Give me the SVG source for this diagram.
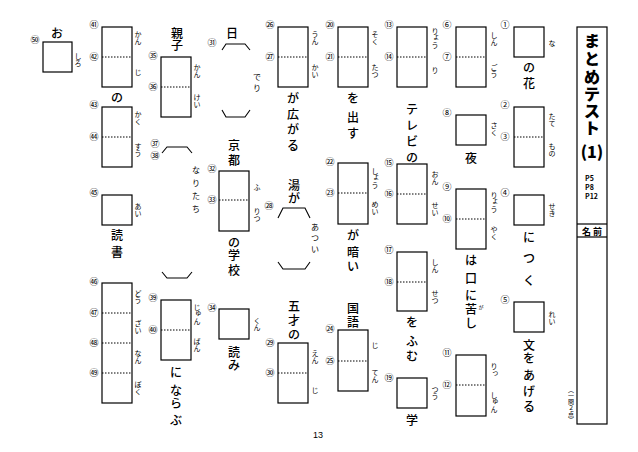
<svg xmlns="http://www.w3.org/2000/svg" width="638" height="452" viewBox="0 0 638 452">
<style>
text{font-family:"Noto Sans CJK JP","Noto Sans",sans-serif;fill:#000;text-anchor:middle}
.b{fill:none;stroke:#000;stroke-width:1.2}
.d{stroke:#000;stroke-width:1;stroke-dasharray:1.5 1.5}
.k{fill:none;stroke:#000;stroke-width:1.1}
.n{font-size:9px}
.m{font-size:12px;font-weight:500}
.f{font-size:7px}
.s{font-size:8px}
.t{font-size:16px;font-weight:900}
</style>
<rect width="638" height="452" fill="#fff"/>

<g id="title">
<rect class="b" x="577" y="27" width="30" height="397"/>
<line class="b" x1="577" y1="224" x2="607" y2="224"/>
<line class="b" x1="577" y1="237" x2="607" y2="237"/>
<text class="t" x="592"><tspan x="592" y="47">ま</tspan><tspan x="592" y="65">と</tspan><tspan x="592" y="83">め</tspan><tspan x="592" y="100">テ</tspan><tspan x="592" y="117">ス</tspan><tspan x="592" y="134">ト</tspan></text>
<text class="t" x="592" y="158">(1)</text>
<text style="font-size:7px;font-weight:700;text-anchor:start"><tspan x="585" y="180.5">P5</tspan><tspan x="585" y="189.5">P8</tspan><tspan x="585" y="198.5">P12</tspan></text>
<text style="font-size:9px;font-weight:700" x="592" y="234.5">名 前</text>
<text style="font-size:6px;writing-mode:vertical-rl" x="571" y="405">（一問２点）</text>
</g>

<g id="q1">
<rect class="b" x="514" y="27" width="30" height="30"/>
<text class="n" x="505" y="28.4">①</text>
<text class="f" x="552" y="45.7">な</text>
<text class="m"><tspan x="529" y="71.5">の</tspan><tspan x="529" y="87.5">花</tspan></text>
</g>
<g id="q2-3">
<rect class="b" x="514" y="107" width="30" height="60"/>
<line class="d" x1="514" y1="137" x2="544" y2="137"/>
<text class="n" x="505" y="108.4">②</text>
<text class="n" x="505" y="140.4">③</text>
<text class="f"><tspan x="552" y="119.2">た</tspan><tspan x="552" y="126.2">て</tspan></text>
<text class="f"><tspan x="552" y="149.2">も</tspan><tspan x="552" y="156.2">の</tspan></text>
</g>
<g id="q4">
<rect class="b" x="514" y="195" width="30" height="30"/>
<text class="n" x="505" y="196.4">④</text>
<text class="f"><tspan x="552" y="209.2">せ</tspan><tspan x="552" y="216.2">き</tspan></text>
<text class="m"><tspan x="529" y="241.5">に</tspan><tspan x="529" y="262.5">つ</tspan><tspan x="529" y="284.5">く</tspan></text>
</g>
<g id="q5">
<rect class="b" x="514" y="302" width="30" height="30"/>
<text class="n" x="505" y="303.4">⑤</text>
<text class="f"><tspan x="552" y="317.2">れ</tspan><tspan x="552" y="324.2">い</tspan></text>
<text class="m"><tspan x="529" y="349.5">文</tspan><tspan x="529" y="362.5">を</tspan></text>
<text class="m"><tspan x="529" y="379.5">あ</tspan><tspan x="529" y="395.5">げ</tspan><tspan x="529" y="410.5">る</tspan></text>
</g>

<g id="q6-7">
<rect class="b" x="456" y="27" width="30" height="60"/>
<line class="d" x1="456" y1="57" x2="486" y2="57"/>
<text class="n" x="447" y="28.4">⑥</text>
<text class="n" x="447" y="60.4">⑦</text>
<text class="f"><tspan x="494" y="38.2">し</tspan><tspan x="494" y="45.2">ん</tspan></text>
<text class="f"><tspan x="494" y="70.2">ご</tspan><tspan x="494" y="77.2">う</tspan></text>
</g>
<g id="q8">
<rect class="b" x="456" y="115" width="30" height="30"/>
<text class="n" x="447" y="116.4">⑧</text>
<text class="f"><tspan x="494" y="128.2">さ</tspan><tspan x="494" y="135.2">く</tspan></text>
<text class="m" x="471" y="162.5">夜</text>
</g>
<g id="q9-10">
<rect class="b" x="456" y="189" width="30" height="60"/>
<line class="d" x1="456" y1="219" x2="486" y2="219"/>
<text class="n" x="447" y="190.4">⑨</text>
<text class="n" x="447" y="222.4">⑩</text>
<text class="f"><tspan x="494" y="197.7">り</tspan><tspan x="495.3" y="203">ょ</tspan><tspan x="494" y="211.7">う</tspan></text>
<text class="f"><tspan x="494" y="232.2">や</tspan><tspan x="494" y="239.2">く</tspan></text>
<text class="m"><tspan x="471" y="264.5">は</tspan><tspan x="471" y="282.5">口</tspan><tspan x="471" y="299.5">に</tspan><tspan x="471" y="313.5">苦</tspan><tspan x="471" y="327.5">し</tspan></text>
<text style="font-size:5px" x="481" y="309">が</text>
</g>
<g id="q11-12">
<rect class="b" x="456" y="355" width="30" height="61"/>
<line class="d" x1="456" y1="385" x2="486" y2="385"/>
<text class="n" x="447" y="356.4">⑪</text>
<text class="n" x="447" y="388.4">⑫</text>
<text class="f"><tspan x="494" y="369.2">り</tspan><tspan x="495.3" y="374.5">っ</tspan></text>
<text class="f"><tspan x="494" y="397.7">し</tspan><tspan x="495.3" y="403">ゅ</tspan><tspan x="494" y="411.7">ん</tspan></text>
</g>

<g id="q13-14">
<rect class="b" x="397" y="27" width="30" height="60"/>
<line class="d" x1="397" y1="57" x2="427" y2="57"/>
<text class="n" x="389" y="28.4">⑬</text>
<text class="n" x="389" y="60.4">⑭</text>
<text class="f"><tspan x="435" y="33.7">り</tspan><tspan x="436.3" y="39">ょ</tspan><tspan x="435" y="47.7">う</tspan></text>
<text class="f" x="435" y="72.7">り</text>
</g>
<g id="q15-16">
<text class="m"><tspan x="412" y="113.5">テ</tspan><tspan x="412" y="129.5">レ</tspan><tspan x="412" y="145.5">ビ</tspan><tspan x="412" y="161.5">の</tspan></text>
<rect class="b" x="397" y="164" width="30" height="60"/>
<line class="d" x1="397" y1="194" x2="427" y2="194"/>
<text class="n" x="389" y="166.4">⑮</text>
<text class="n" x="389" y="197.4">⑯</text>
<text class="f"><tspan x="435" y="177.2">お</tspan><tspan x="435" y="184.2">ん</tspan></text>
<text class="f"><tspan x="435" y="208.2">せ</tspan><tspan x="435" y="215.2">い</tspan></text>
</g>
<g id="q17-18">
<rect class="b" x="397" y="252" width="30" height="59"/>
<line class="d" x1="397" y1="282" x2="427" y2="282"/>
<text class="n" x="389" y="253.4">⑰</text>
<text class="n" x="389" y="285.4">⑱</text>
<text class="f"><tspan x="435" y="265.2">し</tspan><tspan x="435" y="272.2">ん</tspan></text>
<text class="f"><tspan x="435" y="296.2">せ</tspan><tspan x="435" y="303.2">つ</tspan></text>
<text class="m"><tspan x="412" y="326.5">を</tspan><tspan x="412" y="345.5">ふ</tspan><tspan x="412" y="360.5">む</tspan></text>
</g>
<g id="q19">
<rect class="b" x="397" y="378" width="30" height="30"/>
<text class="n" x="389" y="381.4">⑲</text>
<text class="f"><tspan x="435" y="392.2">つ</tspan><tspan x="435" y="399.2">う</tspan></text>
<text class="m" x="412" y="424.5">学</text>
</g>

<g id="q20-21">
<rect class="b" x="338" y="27" width="30" height="60"/>
<line class="d" x1="338" y1="57" x2="368" y2="57"/>
<text class="n" x="330" y="28.4">⑳</text>
<text class="n" x="330" y="60.4">㉑</text>
<text class="f"><tspan x="375" y="37.2">そ</tspan><tspan x="375" y="44.2">く</tspan></text>
<text class="f"><tspan x="375" y="70.2">た</tspan><tspan x="375" y="77.2">つ</tspan></text>
<text class="m"><tspan x="353" y="102.5">を</tspan><tspan x="353" y="121.5">出</tspan><tspan x="353" y="137.5">す</tspan></text>
</g>
<g id="q22-23">
<rect class="b" x="338" y="163" width="30" height="61"/>
<line class="d" x1="338" y1="193" x2="368" y2="193"/>
<text class="n" x="330" y="165.4">㉒</text>
<text class="n" x="330" y="196.4">㉓</text>
<text class="f"><tspan x="375" y="173.7">し</tspan><tspan x="376.3" y="179">ょ</tspan><tspan x="375" y="187.7">う</tspan></text>
<text class="f"><tspan x="375" y="207.2">め</tspan><tspan x="375" y="214.2">い</tspan></text>
<text class="m"><tspan x="353" y="239.5">が</tspan><tspan x="353" y="256.5">暗</tspan><tspan x="353" y="270.5">い</tspan></text>
</g>
<g id="q24-25">
<text class="m"><tspan x="353" y="312.5">国</tspan><tspan x="353" y="326.5">語</tspan></text>
<rect class="b" x="338" y="330" width="30" height="61"/>
<line class="d" x1="338" y1="361" x2="368" y2="361"/>
<text class="n" x="330" y="332.4">㉔</text>
<text class="n" x="330" y="364.4">㉕</text>
<text class="f" x="375" y="347.7">じ</text>
<text class="f"><tspan x="375" y="375.2">て</tspan><tspan x="375" y="382.2">ん</tspan></text>
</g>

<g id="q26-27">
<rect class="b" x="278" y="27" width="30" height="60"/>
<line class="d" x1="278" y1="57" x2="308" y2="57"/>
<text class="n" x="270" y="28.4">㉖</text>
<text class="n" x="270" y="60.4">㉗</text>
<text class="f"><tspan x="315" y="37.2">う</tspan><tspan x="315" y="44.2">ん</tspan></text>
<text class="f"><tspan x="315" y="70.2">か</tspan><tspan x="315" y="77.2">い</tspan></text>
<text class="m"><tspan x="293" y="102.5">が</tspan><tspan x="293" y="118.5">広</tspan><tspan x="293" y="133.5">が</tspan><tspan x="293" y="149.5">る</tspan></text>
</g>
<g id="q28">
<text class="m"><tspan x="294" y="189.5">湯</tspan><tspan x="294" y="202.5">が</tspan></text>
<path class="k" d="M278,218 L283,208 L305,208 L310,218"/>
<path class="k" d="M278,262 L283,269 L305,269 L310,262"/>
<text class="n" x="269" y="209.4">㉘</text>
<text class="s"><tspan x="315" y="230">あ</tspan><tspan x="315" y="241">つ</tspan><tspan x="315" y="252">い</tspan></text>
</g>
<g id="q29-30">
<text class="m"><tspan x="294" y="310.5">五</tspan><tspan x="294" y="324.5">才</tspan><tspan x="294" y="338.5">の</tspan></text>
<rect class="b" x="278" y="343" width="30" height="60"/>
<line class="d" x1="278" y1="373" x2="308" y2="373"/>
<text class="n" x="270" y="346.4">㉙</text>
<text class="n" x="270" y="376.4">㉚</text>
<text class="f"><tspan x="315" y="356.2">え</tspan><tspan x="315" y="363.2">ん</tspan></text>
<text class="f" x="315" y="392.7">じ</text>
</g>

<g id="q31">
<text class="m" x="232" y="37.5">日</text>
<path class="k" d="M222,50 L226,44 L245,44 L250,50"/>
<path class="k" d="M222,110 L226,117 L245,117 L250,110"/>
<text class="n" x="212" y="46.4">㉛</text>
<text class="s"><tspan x="257" y="80">で</tspan><tspan x="257" y="91">り</tspan></text>
</g>
<g id="q32-33">
<text class="m"><tspan x="234" y="149.5">京</tspan><tspan x="234" y="164.5">都</tspan></text>
<rect class="b" x="219" y="171" width="30" height="60"/>
<line class="d" x1="219" y1="200" x2="249" y2="200"/>
<text class="n" x="212" y="172.4">㉜</text>
<text class="n" x="212" y="203.4">㉝</text>
<text class="f" x="257" y="189.7">ふ</text>
<text class="f"><tspan x="257" y="214.2">り</tspan><tspan x="257" y="221.2">つ</tspan></text>
<text class="m"><tspan x="234" y="246.5">の</tspan><tspan x="234" y="259.5">学</tspan><tspan x="234" y="274.5">校</tspan></text>
</g>
<g id="q34">
<rect class="b" x="219" y="309" width="30" height="30"/>
<text class="n" x="212" y="311.4">㉞</text>
<text class="f"><tspan x="257" y="323.2">く</tspan><tspan x="257" y="330.2">ん</tspan></text>
<text class="m"><tspan x="234" y="356.5">読</tspan><tspan x="234" y="369.5">み</tspan></text>
</g>

<g id="q35-36">
<text class="m"><tspan x="177" y="37.5">親</tspan><tspan x="177" y="49.5">子</tspan></text>
<rect class="b" x="161" y="57" width="30" height="60"/>
<line class="d" x1="161" y1="87" x2="191" y2="87"/>
<text class="n" x="153" y="59.4">㉟</text>
<text class="n" x="153" y="90.4">㊱</text>
<text class="f"><tspan x="197" y="70.2">か</tspan><tspan x="197" y="77.2">ん</tspan></text>
<text class="f"><tspan x="197" y="100.2">け</tspan><tspan x="197" y="107.2">い</tspan></text>
</g>
<g id="q37-38">
<path class="k" d="M162,153 L167,147 L187,147 L192,153"/>
<path class="k" d="M162,272 L167,278 L187,278 L192,272"/>
<text class="n" x="155" y="147.4">㊲</text>
<text class="n" x="155" y="159.4">㊳</text>
<text class="s"><tspan x="196" y="173">な</tspan><tspan x="196" y="186">り</tspan><tspan x="196" y="199">た</tspan><tspan x="196" y="212">ち</tspan></text>
</g>
<g id="q39-40">
<rect class="b" x="161" y="300" width="30" height="60"/>
<line class="d" x1="161" y1="330" x2="191" y2="330"/>
<text class="n" x="153" y="301.4">㊴</text>
<text class="n" x="153" y="333.4">㊵</text>
<text class="f"><tspan x="197" y="309.7">じ</tspan><tspan x="198.3" y="315">ゅ</tspan><tspan x="197" y="323.7">ん</tspan></text>
<text class="f"><tspan x="197" y="344.2">ば</tspan><tspan x="197" y="351.2">ん</tspan></text>
<text class="m"><tspan x="176" y="376.5">に</tspan><tspan x="176" y="394.5">な</tspan><tspan x="176" y="407.5">ら</tspan><tspan x="176" y="424.5">ぶ</tspan></text>
</g>

<g id="q41-42">
<rect class="b" x="102" y="27" width="30" height="60"/>
<line class="d" x1="102" y1="57" x2="132" y2="57"/>
<text class="n" x="94" y="28.4">㊶</text>
<text class="n" x="94" y="60.4">㊷</text>
<text class="f"><tspan x="138" y="37.2">か</tspan><tspan x="138" y="44.2">ん</tspan></text>
<text class="f" x="138" y="74.7">じ</text>
<text class="m" x="117" y="101.5">の</text>
</g>
<g id="q43-44">
<rect class="b" x="102" y="107" width="30" height="60"/>
<line class="d" x1="102" y1="137" x2="132" y2="137"/>
<text class="n" x="94" y="108.4">㊸</text>
<text class="n" x="94" y="140.4">㊹</text>
<text class="f"><tspan x="138" y="117.2">か</tspan><tspan x="138" y="124.2">く</tspan></text>
<text class="f"><tspan x="138" y="149.2">す</tspan><tspan x="138" y="156.2">う</tspan></text>
</g>
<g id="q45">
<rect class="b" x="102" y="195" width="30" height="30"/>
<text class="n" x="94" y="196.4">㊺</text>
<text class="f"><tspan x="138" y="209.2">あ</tspan><tspan x="138" y="216.2">い</tspan></text>
<text class="m"><tspan x="117" y="239.5">読</tspan><tspan x="117" y="256.5">書</tspan></text>
</g>
<g id="q46-49">
<rect class="b" x="102" y="283" width="30" height="120"/>
<line class="d" x1="102" y1="313" x2="132" y2="313"/>
<line class="d" x1="102" y1="343" x2="132" y2="343"/>
<line class="d" x1="102" y1="373" x2="132" y2="373"/>
<text class="n" x="94" y="285.4">㊻</text>
<text class="n" x="94" y="316.4">㊼</text>
<text class="n" x="94" y="346.4">㊽</text>
<text class="n" x="94" y="376.4">㊾</text>
<text class="f"><tspan x="138" y="296.2">ど</tspan><tspan x="138" y="303.2">う</tspan></text>
<text class="f"><tspan x="138" y="326.2">ざ</tspan><tspan x="138" y="333.2">い</tspan></text>
<text class="f"><tspan x="138" y="356.2">な</tspan><tspan x="138" y="363.2">ん</tspan></text>
<text class="f"><tspan x="138" y="387.2">ぼ</tspan><tspan x="138" y="394.2">く</tspan></text>
</g>
<g id="q50">
<text class="m" x="57" y="37.5">お</text>
<rect class="b" x="43" y="42" width="29" height="30"/>
<text class="n" x="35" y="43.4">㊿</text>
<text class="f"><tspan x="78" y="58.7">し</tspan><tspan x="78" y="65.7">ろ</tspan></text>
</g>

<text style="font-family:'Liberation Sans',sans-serif;font-size:9px" x="318" y="438">13</text>
</svg>
